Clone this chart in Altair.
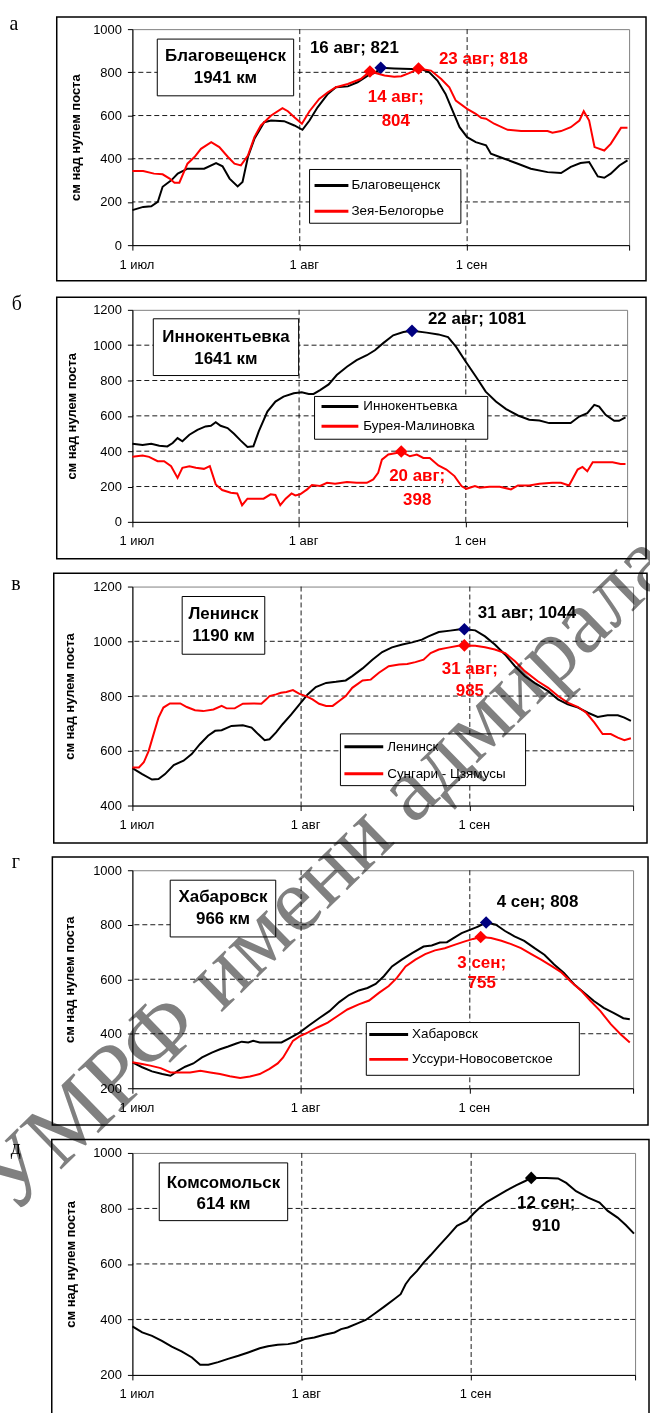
import altair as alt
import pandas as pd

FONT = "Liberation Sans"
SERIF = "Liberation Serif"
BLACK = "#000000"
RED = "#FF0000"
NAVY = "#000080"
GRAY = "#808080"

# x axis: days counted from 1 July
X_END = 92
X_TICKS = [0, 31, 62, 92]
X_TICK_LABELS = ["1 июл", "1 авг", "1 сен", ""]
X_GRID = [31, 62]
MONTH_NAMES = ["июл", "авг", "сен"]
MONTH_STARTS = [0, 31, 62]
Y_TITLE = "см над нулем поста"
WATERMARK = "УМРФ имени адмирала"

# ---------- а: Благовещенск / Зея-Белогорье ----------
A_Y_TICKS = [0, 200, 400, 600, 800, 1000]
A_BLAG_DAY = [0, 2, 3.5, 4.7, 5.6, 7.2, 8.4, 10.2, 13.3, 15.5, 16.7, 18, 19.5, 20.4, 21.4, 22.6,
              24.4, 25.7, 28.1, 30, 31.5, 32.8, 34.3, 36.2, 37.7, 39.9, 41.7, 43.6, 45.1, 46,
              48.5, 51.6, 53.5, 55, 56.5, 58, 59.3, 60.6, 62, 63.6, 65.5, 66.4, 68.9, 71.4,
              73.8, 76.9, 79.4, 81.2, 83, 84.6, 86.2, 87.4, 88.6, 90.2, 91.7]
A_BLAG_LEVEL = [162, 177, 180, 200, 270, 300, 331, 354, 354, 380, 365, 308, 272, 292, 408, 492,
                569, 577, 574, 554, 534, 577, 638, 700, 731, 735, 754, 785, 800, 821,
                818, 815, 815, 800, 762, 700, 623, 546, 500, 477, 462, 423, 400, 377,
                354, 338, 334, 362, 380, 385, 318, 312, 331, 369, 392]
A_ZEYA_DAY = [0, 2, 4, 5.6, 6.9, 7.8, 8.7, 10.2, 11.5, 12.7, 14.6, 16.1, 17.7, 18.9, 20.1, 21.4,
              22.6, 23.8, 25.7, 27.8, 28.8, 30, 31.4, 32.8, 34.6, 36.2, 37.7, 39.9, 42.3, 44,
              46.7, 48.5, 49.8, 51.6, 53, 55.3, 57.2, 58.7, 59.9, 62, 63.6, 64.6, 65.5, 67,
              69.5, 72, 74.4, 76.9, 77.8, 79.4, 81.2, 82.8, 83.6, 84.6, 85.6, 87.4, 88.6,
              90.5, 91.7]
A_ZEYA_LEVEL = [343, 343, 331, 328, 308, 289, 289, 377, 408, 446, 477, 454, 408, 377, 369, 415,
                500, 554, 600, 634, 620, 592, 562, 620, 677, 708, 731, 746, 769, 804,
                785, 780, 782, 800, 818, 808, 769, 731, 669, 631, 608, 589, 585, 562,
                534, 528, 528, 528, 520, 528, 546, 577, 620, 577, 454, 438, 469,
                543, 543]
A_PEAK_DAY = [46, 44, 53]
A_PEAK_LEVEL = [821, 804, 818]

# ---------- б: Иннокентьевка / Бурея-Малиновка ----------
B_Y_TICKS = [0, 200, 400, 600, 800, 1000, 1200]
B_INNO_DAY = [0, 1.9, 3.5, 5, 6.5, 7.5, 8.4, 9.3, 10.6, 12.1, 13.6, 14.6, 15.5, 16.4, 17.7, 18.9,
              20.1, 21.4, 22.5, 23.5, 25.1, 26.6, 28.1, 30, 31.5, 32.8, 33.7, 34.9, 36.5, 38,
              39.9, 41.7, 43.6, 45.1, 46.7, 48.5, 50.4, 52, 54.7, 56.9, 58.7, 60.2, 62, 63.9,
              65.7, 67.6, 69.5, 71.7, 73.8, 75.7, 77.5, 79.4, 81.5, 83.1, 84.6, 85.9, 86.8,
              88, 89.6, 90.5, 91.7]
B_INNO_LEVEL = [442, 435, 442, 431, 427, 446, 474, 456, 493, 521, 540, 544, 564, 544, 531, 499,
                461, 424, 428, 512, 624, 681, 709, 728, 733, 724, 724, 746, 778, 831,
                878, 915, 943, 971, 1013, 1056, 1074, 1081, 1071, 1061, 1046, 990, 906, 821,
                737, 681, 638, 602, 578, 574, 559, 559, 559, 596, 615, 662, 652,
                606, 572, 572, 591]
B_BUREYA_DAY = [0, 1.9, 3.1, 4.7, 5.9, 7.2, 8.4, 9.3, 10.6, 11.8, 13.3, 14.4, 15.5, 16.7, 18.3,
                19.5, 20.4, 21.4, 22.9, 24.4, 25.7, 26.6, 27.5, 28.5, 29.6, 30.3, 31.2, 32.5,
                33.4, 34.9, 36.2, 37.7, 39.9, 41.7, 43.6, 44.8, 45.7, 46.4, 47.6, 49.1, 50,
                51.6, 52.9, 54.1, 55.3, 56.9, 58.4, 59.9, 61.2, 62.1, 63.7, 64.6, 66.4, 68.3,
                70.4, 71.7, 73.8, 75.7, 78.1, 79.7, 81.2, 82.8, 83.7, 84.6, 85.6, 87.4, 89.3,
                90.8, 91.7]
B_BUREYA_LEVEL = [368, 375, 368, 343, 343, 315, 249, 306, 315, 306, 300, 315, 212, 180, 165,
                  161, 94, 131, 131, 131, 156, 152, 94, 131, 161, 150, 156, 184,
                  208, 203, 221, 216, 225, 221, 221, 240, 277, 352, 381, 390, 398,
                  371, 381, 362, 362, 319, 296, 259, 203, 187, 203, 193, 199, 199,
                  184, 206, 206, 216, 221, 221, 206, 296, 311, 287, 337, 337, 337,
                  328, 328]
B_PEAK_DAY = [52, 50]
B_PEAK_LEVEL = [1081, 398]

# ---------- в: Ленинск / Сунгари - Цзямусы ----------
V_Y_TICKS = [400, 600, 800, 1000, 1200]
V_LEN_DAY = [0, 1.8, 3.6, 4.8, 6, 7.6, 9.4, 10.9, 12.4, 13.9, 15.2, 16.4, 18.2, 20.3, 21.9, 23.1,
             24.3, 25.2, 26.4, 27.6, 29.2, 30.7, 32.2, 33.7, 35.6, 37.4, 39.2, 40.4, 42.3,
             44.1, 45.9, 47.7, 49.6, 51.4, 53.2, 54.4, 56.3, 58.4, 59.9, 61, 63, 64.8, 66.6,
             68.5, 70.3, 72.1, 73.9, 76.4, 78.2, 80, 81.9, 83.7, 85.5, 87.3, 89.2, 90.4, 91.6]
V_LEN_LEVEL = [537, 515, 495, 497, 515, 548, 564, 588, 624, 655, 673, 675, 691, 693, 685, 661,
               639, 642, 667, 697, 733, 770, 806, 833, 848, 852, 857, 873, 901,
               933, 961, 978, 988, 996, 1006, 1018, 1034, 1039, 1043, 1044, 1040, 1018, 988,
               951, 909, 873, 848, 818, 788, 770, 758, 739, 724, 730, 730, 721, 709]
V_SUN_DAY = [0, 1.2, 2.1, 3, 3.9, 4.8, 5.7, 6.9, 8.8, 10, 11.5, 13, 14.9, 16.4, 17.3, 18.8, 20.3,
             22.2, 23.7, 24.6, 25.2, 26.4, 27.3, 28.3, 29.5, 30.7, 31.9, 33.1, 34.3, 35.6,
             36.8, 38, 39.2, 40.4, 42.3, 43.8, 45.3, 47.1, 49, 50.5, 52, 53.5, 54.8, 56.3,
             57.8, 59.9, 61, 63, 64.8, 66.6, 68.5, 70.3, 72.1, 74.5, 76.4, 78.2, 80, 81.9,
             83.4, 84.9, 86.4, 87.9, 89.2, 90.4, 91.6]
V_SUN_LEVEL = [539, 539, 558, 600, 661, 721, 758, 773, 773, 760, 748, 745, 751, 764, 755, 755, 772,
               773, 772, 788, 800, 806, 812, 815, 822, 808, 800, 788, 772, 764,
               764, 782, 800, 830, 857, 860, 885, 909, 915, 917, 924, 933, 957, 970,
               976, 984, 985, 984, 978, 970, 957, 927, 891, 854, 830, 800, 776, 760,
               739, 703, 661, 661, 648, 639, 646]
V_PEAK_DAY = [61, 61]
V_PEAK_LEVEL = [1044, 985]

# ---------- г: Хабаровск / Уссури-Новосоветское ----------
G_Y_TICKS = [200, 400, 600, 800, 1000]
G_KHAB_DAY = [0, 1.8, 3.6, 5.5, 7, 8.2, 9.7, 11.2, 12.8, 14.6, 16.1, 17.6, 19.1, 20.1, 21.3, 22.2,
              23.4, 25.2, 27.4, 28.9, 30.7, 32.5, 34.3, 36.2, 38, 39.8, 41.6, 43.2, 44.7, 46.2,
              47.7, 49.5, 51.4, 53.5, 55, 56.5, 57.8, 59, 60.5, 62, 63.5, 65, 66.8, 68.4,
              70.2, 72, 73.9, 75.7, 77.5, 79.3, 81.2, 83, 84.8, 86.6, 88.4, 90.2, 91.4]
G_KHAB_LEVEL = [295, 277, 262, 252, 246, 262, 279, 291, 313, 331, 343, 353, 364, 371, 368, 374,
                368, 368, 368, 384, 404, 431, 457, 483, 516, 542, 559, 568, 583, 611,
                647, 672, 696, 720, 724, 735, 736, 751, 769, 781, 793, 808, 800, 778,
                757, 741, 714, 690, 654, 623, 581, 550, 520, 495, 477, 457, 453]
G_USS_DAY = [0, 1.8, 3.3, 5.2, 7, 8.8, 10.6, 12.5, 14.3, 16.1, 17.9, 19.8, 21.6, 23.4, 25.2, 26.7,
             27.7, 28.6, 29.5, 30.7, 32.2, 34, 35.9, 37.7, 39.5, 41.6, 43.5, 45.3, 47.1, 48.6,
             50.2, 52, 53.8, 55.6, 57.4, 59.3, 61.1, 62.6, 64, 65.9, 67.8, 69.6, 71.4, 73.3,
             75.1, 76.9, 78.7, 80.5, 82.4, 84.2, 86, 87.9, 89.7, 91.4]
G_USS_LEVEL = [295, 289, 283, 274, 258, 258, 258, 264, 258, 252, 244, 238, 243, 252, 271, 291,
               313, 343, 374, 390, 404, 423, 441, 465, 489, 508, 522, 550, 575, 605,
               647, 672, 692, 706, 714, 727, 739, 748, 755, 751, 741, 729, 714, 692,
               672, 650, 627, 593, 559, 520, 483, 435, 398, 368]
G_PEAK_DAY = [65, 64]
G_PEAK_LEVEL = [808, 755]

# ---------- д: Комсомольск ----------
D_Y_TICKS = [200, 400, 600, 800, 1000]
D_KOMS_DAY = [0, 1.8, 3.6, 5.4, 7.2, 9, 10.9, 12.4, 13.9, 15.7, 17.5, 19.4, 21.2, 23.3, 24.8, 26.6,
              28.5, 30, 31.5, 33.3, 35.1, 37, 38.2, 39.4, 41.2, 42.7, 44.5, 46.1, 47.9, 49.1,
              50, 50.9, 52.1, 53.3, 54.6, 56.1, 57.9, 59.4, 61.2, 62.4, 63.7, 64.9, 66.7, 68.5,
              70.3, 71.8, 73, 75.8, 77.9, 79.4, 81.2, 83.4, 85.5, 87, 88.8, 90.3, 91.8]
D_KOMS_LEVEL = [375, 353, 341, 323, 302, 285, 263, 237, 237, 246, 258, 269, 281, 296, 303, 309,
                311, 317, 329, 335, 345, 353, 365, 371, 386, 398, 423, 446, 473, 491,
                527, 551, 575, 605, 632, 665, 704, 737, 755, 781, 805, 824, 844, 865,
                884, 898, 910, 910, 908, 892, 862, 839, 821, 791, 767, 740, 709]
D_PEAK_DAY = [73]
D_PEAK_LEVEL = [910]

# Page geometry: plot areas start at (131, 25); the page is 650 x 1413
PAGE_W, PAGE_H = 650, 1413
ORIGIN_X, ORIGIN_Y = 131, 25
SPACING = 65
# invisible corner anchors that pin the drawing's extents (relative to plot origins)
ANCHOR_LEFT, ANCHOR_RIGHT, ANCHOR_BOTTOM = -171, 701, 401

LABEL_SIZE = 17      # peak annotations
STATION_SIZE = 17    # station name boxes
LEGEND_SIZE = 13.5


def date_text(day):
    i = max(k for k, s in enumerate(MONTH_STARTS) if s <= day)
    return f"{day - MONTH_STARTS[i] + 1} {MONTH_NAMES[i]}"


def one_row():
    return pd.DataFrame({"k": [0]})


X_LABEL_EXPR = " : ".join(
    f"datum.value == {d} ? '{t}'" for d, t in zip(X_TICKS, X_TICK_LABELS)
) + " : ''"


# Panel layouts (pixel offsets relative to each plot area's top-left corner)
PANELS = [
    dict(letter="а", letter_xy=(-119, -5), station="Благовещенск", km="1941 км",
         y_ticks=A_Y_TICKS, w=499, h=217, title_x=-57,
         frame=(-76, -12.3, 516, 252.7),
         title_box=(25, 10, 162, 67, 93.5, 27, 49),
         legend=dict(box=(178, 141, 330, 195), rows=(157, 183), line=(183, 217), tx=220),
         series=[("Благовещенск", BLACK, A_BLAG_DAY, A_BLAG_LEVEL),
                 ("Зея-Белогорье", RED, A_ZEYA_DAY, A_ZEYA_LEVEL)],
         peaks=list(zip(A_PEAK_DAY, A_PEAK_LEVEL)),
         # marker colour, text colour, two-line?, align, dx, dy (first line), dy (second line)
         peak_styles=[(NAVY, BLACK, False, "center", -26.5, -20, 0),
                      (RED, RED, True, "center", 26, 25.5, 49.5),
                      (RED, RED, False, "left", 20.5, -9.5, 0)]),
    dict(letter="б", letter_xy=(-116, -6), station="Иннокентьевка", km="1641 км",
         y_ticks=B_Y_TICKS, w=497, h=213, title_x=-61,
         frame=(-76, -12.7, 516, 250),
         title_box=(21, 9, 167, 66, 94, 27, 49),
         legend=dict(box=(183, 87, 357, 130), rows=(97, 117), line=(190, 227), tx=232),
         series=[("Иннокентьевка", BLACK, B_INNO_DAY, B_INNO_LEVEL),
                 ("Бурея-Малиновка", RED, B_BUREYA_DAY, B_BUREYA_LEVEL)],
         peaks=list(zip(B_PEAK_DAY, B_PEAK_LEVEL)),
         peak_styles=[(NAVY, BLACK, False, "left", 16, -12, 0),
                      (RED, RED, True, "center", 16, 24.6, 48.6)]),
    dict(letter="в", letter_xy=(-117, -3), station="Ленинск", km="1190 км",
         y_ticks=V_Y_TICKS, w=503, h=220, title_x=-63,
         frame=(-79, -13.3, 517, 257.7),
         title_box=(50, 10, 133, 68, 91.5, 28, 50),
         legend=dict(box=(209, 148, 395, 200), rows=(161, 188), line=(213, 252), tx=256),
         series=[("Ленинск", BLACK, V_LEN_DAY, V_LEN_LEVEL),
                 ("Сунгари - Цзямусы", RED, V_SUN_DAY, V_SUN_LEVEL)],
         peaks=list(zip(V_PEAK_DAY, V_PEAK_LEVEL)),
         peak_styles=[(NAVY, BLACK, False, "left", 13.5, -16, 0),
                      (RED, RED, True, "center", 5.5, 24, 46)]),
    dict(letter="г", letter_xy=(-117, -8), station="Хабаровск", km="966 км",
         y_ticks=G_Y_TICKS, w=503, h=219, title_x=-63,
         frame=(-80.4, -13.3, 518, 256),
         title_box=(38, 10, 144, 67, 91, 27, 49),
         legend=dict(box=(235, 153, 449, 206), rows=(165, 190), line=(238, 277), tx=281),
         series=[("Хабаровск", BLACK, G_KHAB_DAY, G_KHAB_LEVEL),
                 ("Уссури-Новосоветское", RED, G_USS_DAY, G_USS_LEVEL)],
         peaks=list(zip(G_PEAK_DAY, G_PEAK_LEVEL)),
         peak_styles=[(NAVY, BLACK, False, "left", 10.6, -20.6, 0),
                      (RED, RED, True, "center", 1, 26, 46)]),
    dict(letter="д", letter_xy=(-117, -5), station="Комсомольск", km="614 км",
         y_ticks=D_Y_TICKS, w=505, h=223, title_x=-62,
         frame=(-81, -13.5, 519, 275),
         title_box=(27, 10, 156, 68, 91.5, 30, 51),
         legend=None,
         series=[("Комсомольск", BLACK, D_KOMS_DAY, D_KOMS_LEVEL)],
         peaks=list(zip(D_PEAK_DAY, D_PEAK_LEVEL)),
         peak_styles=[(BLACK, BLACK, True, "center", 15, 25, 48)]),
]


def text_at(x, y, txt, size, weight="normal", color=BLACK, align="center", font=FONT):
    return alt.Chart(one_row()).mark_text(
        font=font, fontSize=size, fontWeight=weight, color=color,
        align=align, baseline="middle"
    ).encode(x=alt.value(x), y=alt.value(y), text=alt.value(txt))


def box(x0, y0, x1, y1, width=1.0, fill="white", fill_opacity=1.0):
    return alt.Chart(one_row()).mark_rect(
        fill=fill, fillOpacity=fill_opacity, stroke=BLACK, strokeWidth=width
    ).encode(x=alt.value(x0), x2=alt.value(x1), y=alt.value(y0), y2=alt.value(y1))


def anchor(x0, y0):
    return alt.Chart(one_row()).mark_rect(opacity=0).encode(
        x=alt.value(x0), x2=alt.value(x0 + 1), y=alt.value(y0), y2=alt.value(y0 + 1))


def make_panel(p, first=False, last=False):
    w, h, yt = p["w"], p["h"], p["y_ticks"]
    x_scale = alt.Scale(domain=[0, X_END], nice=False, zero=False)
    y_scale = alt.Scale(domain=[yt[0], yt[-1]], nice=False, zero=False)
    x_axis = alt.Axis(values=X_TICKS, labelExpr=X_LABEL_EXPR, grid=False, title=None,
                      tickSize=5, labelPadding=8, labelFlush=False, labelOffset=4,
                      labelOverlap=False)
    y_axis = alt.Axis(values=yt, format="d", grid=False, title=Y_TITLE, tickSize=5,
                      labelPadding=6, titleX=p["title_x"], titleY=h / 2, titleAngle=270,
                      titleAlign="center", titleBaseline="middle")

    def X():
        return alt.X("day:Q", scale=x_scale, axis=x_axis)

    def Y():
        return alt.Y("level:Q", scale=y_scale, axis=y_axis)

    layers = []
    if first:
        layers.append(anchor(ANCHOR_LEFT, -ORIGIN_Y))
        layers.append(anchor(ANCHOR_RIGHT - 1, -ORIGIN_Y))
    if last:
        layers.append(anchor(ANCHOR_LEFT, ANCHOR_BOTTOM - 1))

    fx0, fy0, fx1, fy1 = p["frame"]
    layers.append(box(fx0, fy0, fx1, fy1, width=1.5, fill="white", fill_opacity=0))

    # dashed grid
    layers.append(alt.Chart(pd.DataFrame({"level": yt[1:-1]})).mark_rule(
        color=BLACK, strokeDash=[5, 3], strokeWidth=0.9).encode(y=Y()))
    layers.append(alt.Chart(pd.DataFrame({"day": X_GRID})).mark_rule(
        color=BLACK, strokeDash=[5, 3], strokeWidth=0.9).encode(x=X()))

    for name, color, days, levels in p["series"]:
        df = pd.DataFrame({"day": days, "level": levels})
        layers.append(alt.Chart(df).mark_line(color=color, strokeWidth=2).encode(x=X(), y=Y()))

    for (day, level), (mcol, tcol, two, align, dx, dy1, dy2) in zip(p["peaks"], p["peak_styles"]):
        pdf = pd.DataFrame({"day": [day], "level": [level]})
        layers.append(alt.Chart(pdf).mark_point(
            shape="diamond", filled=True, size=160, color=mcol, opacity=1).encode(x=X(), y=Y()))
        if two:
            lines = [(f"{date_text(day)};", dy1), (f"{level}", dy2)]
        else:
            lines = [(f"{date_text(day)}; {level}", dy1)]
        for txt, dy in lines:
            layers.append(alt.Chart(pdf).mark_text(
                font=FONT, fontSize=LABEL_SIZE, fontWeight="bold", color=tcol,
                align=align, baseline="middle", dx=dx, dy=dy
            ).encode(x=X(), y=Y(), text=alt.value(txt)))

    bx0, by0, bx1, by1, cx, r1, r2 = p["title_box"]
    layers.append(box(bx0, by0, bx1, by1))
    layers.append(text_at(cx, r1, p["station"], STATION_SIZE, "bold"))
    layers.append(text_at(cx, r2, p["km"], STATION_SIZE, "bold"))

    lg = p["legend"]
    if lg:
        lx0, ly0, lx1, ly1 = lg["box"]
        layers.append(box(lx0, ly0, lx1, ly1))
        for (name, color, _, _), ry in zip(p["series"], lg["rows"]):
            layers.append(alt.Chart(one_row()).mark_rule(color=color, strokeWidth=3).encode(
                x=alt.value(lg["line"][0]), x2=alt.value(lg["line"][1]), y=alt.value(ry)))
            layers.append(text_at(lg["tx"], ry, name, LEGEND_SIZE, align="left"))

    lx, ly = p["letter_xy"]
    layers.append(text_at(lx, ly, p["letter"], 20, font=SERIF))

    if last:
        layers.append(alt.Chart(one_row()).mark_text(
            font=SERIF, fontSize=92, color=GRAY, angle=315.7, blend="multiply",
            align="center", baseline="middle"
        ).encode(x=alt.value(193.5), y=alt.value(-281.5), text=alt.value(WATERMARK)))

    return alt.layer(*layers).properties(width=w, height=h)


charts = [make_panel(p, first=(i == 0), last=(i == len(PANELS) - 1)) for i, p in enumerate(PANELS)]

# padding that trims the anchored extents down to the page size
stack_h = sum(p["h"] for p in PANELS) + SPACING * (len(PANELS) - 1)
last_top = stack_h - PANELS[-1]["h"]
pad_left = ORIGIN_X + ANCHOR_LEFT
pad_right = PAGE_W - (ANCHOR_RIGHT - ANCHOR_LEFT) - pad_left
pad_bottom = PAGE_H - (ORIGIN_Y + last_top + ANCHOR_BOTTOM)

chart = alt.vconcat(
    *charts, spacing=SPACING, bounds="flush",
    padding={"left": pad_left, "top": 0, "right": pad_right, "bottom": pad_bottom},
    background="white"
).configure_view(
    stroke=GRAY, strokeWidth=1
).configure_axis(
    labelFont=FONT, labelFontSize=13, labelColor=BLACK,
    titleFont=FONT, titleFontSize=13, titleFontWeight="bold", titleColor=BLACK,
    domainColor=BLACK, tickColor=BLACK, domainWidth=1
)

chart.save("out.html", embed_options={"renderer": "svg", "actions": False})
